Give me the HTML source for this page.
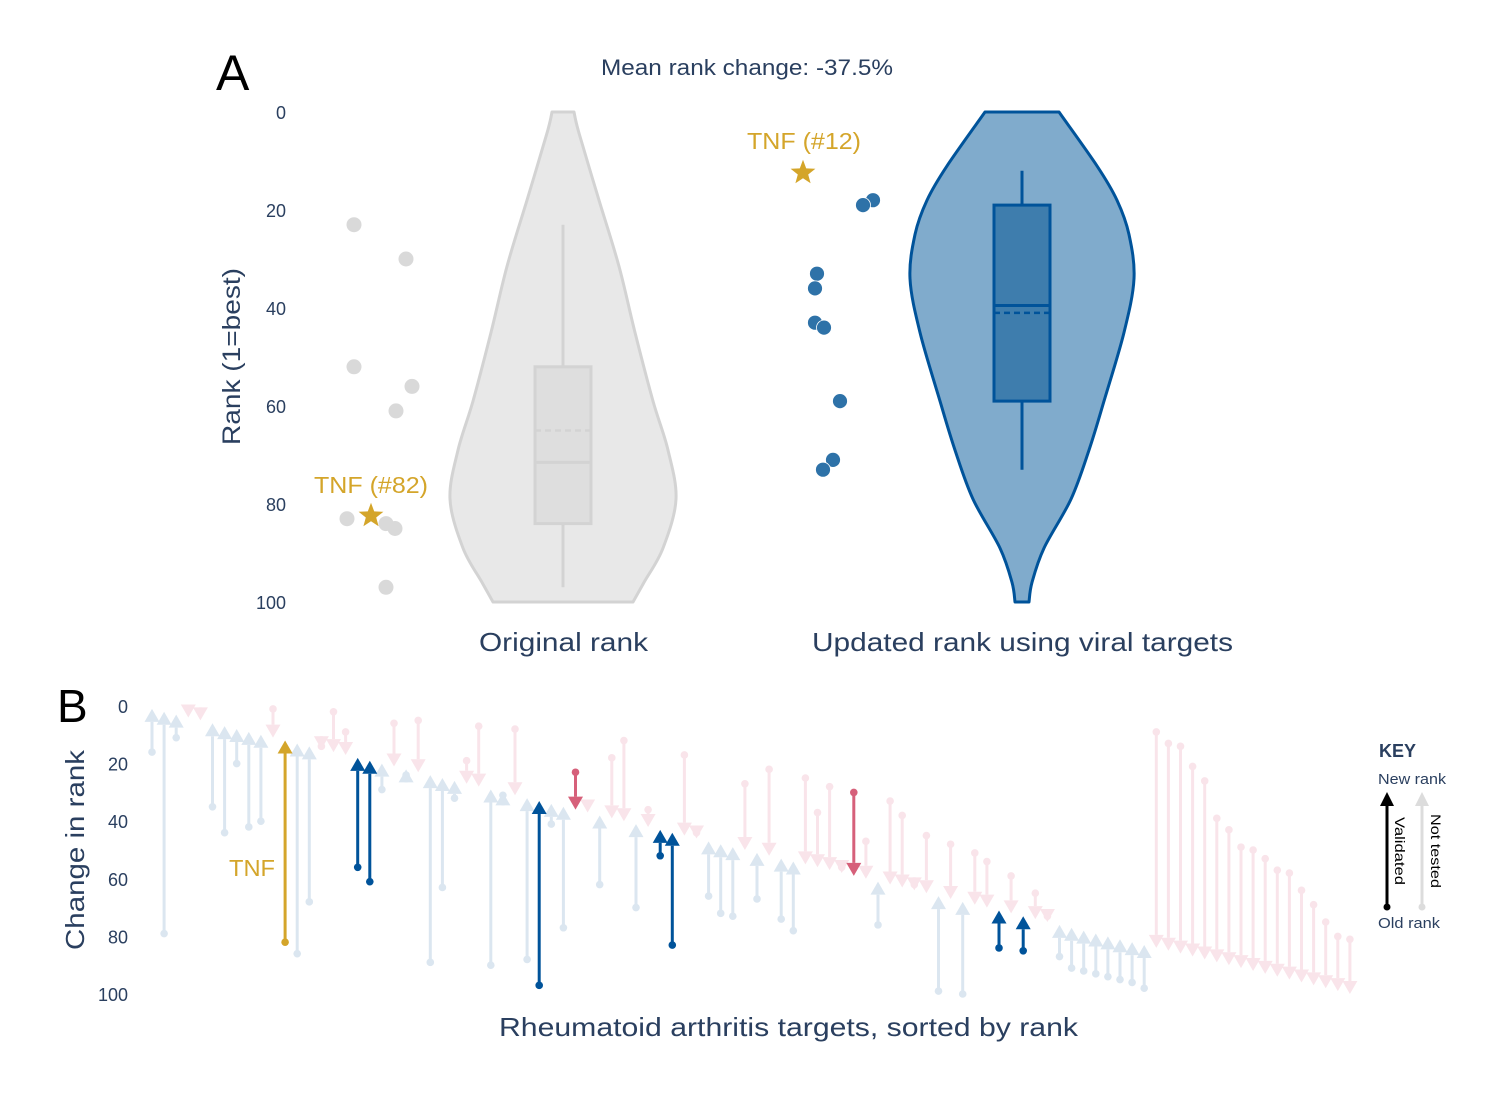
<!DOCTYPE html>
<html><head><meta charset="utf-8"><style>
body{margin:0;background:#fff;}
svg{display:block;font-family:"Liberation Sans",sans-serif;}
</style></head><body>
<svg id="chart" width="1500" height="1097" viewBox="0 0 1500 1097" xmlns="http://www.w3.org/2000/svg">
<g id="pa"></g>
<g id="pb"></g>
</svg>
<script>
// ---- Panel A data ----
const aTicks = [0,20,40,60,80,100];
const origRanks = [23,30,52,56,61,83,84,85,97];
const origJitterX = [354,406,354,412,396,347,386,395,386];
const updRanks = [18,19,33,36,43,44,59,71,73];
const updJitterX = [873,863,817,815,815,824,840,833,823];
const tnfOrig = 82, tnfUpd = 12;
const origBox = {q1:52,q3:84,med:71.5,mean:65,lo:23,hi:97};
const updBox = {q1:19,q3:59,med:39.5,mean:41,lo:12,hi:73};
const origViolinV = [0,4.3,18,31.5,45,59,69,79,89,96,100];
const origViolinW = [11,16,36,56,72,90,105,113,100,81,70];
const updViolinV = [0,11,18,25,34,45,59,69,79,89,96,100];
const updViolinW = [37,75,95,107,112,102,82,67,49,22,10,7];
// ---- Panel B data ----
const bTicks = [0,20,40,60,80,100];
const newRanks = [];
for (let i=1;i<=100;i++) newRanks.push(i);
const oldRanks = [16,79,11,1,2,35,44,20,42,40,1,82,86,68,14,2,9,56,61,29,6,24,5,89,63,32,19,7,90,31,8,88,97,
41,77,23,34,62,18,12,70,36,52,83,17,44,66,72,73,27,67,22,74,78,25,37,28,56,30,47,76,33,38,62,45,99,48,
100,51,54,84,59,85,65,73,87,91,92,93,94,95,96,98,9,13,14,21,26,39,43,49,50,53,57,58,64,69,75,80,81];
const types = ['u','u','u','d','d','u','u','u','u','u','d','g','u','u','d','d','d','v','v','u','d','u','d','u','u','u','d','d','u','u','d','u','v',
'u','u','r','d','u','d','d','u','d','v','v','d','d','u','u','u','d','u','d','u','u','d','d','d','d','r','d','u','d','d','d','d','u','d',
'u','d','d','v','d','v','d','d','u','u','u','u','u','u','u','u','d','d','d','d','d','d','d','d','d','d','d','d','d','d','d','d','d'];

const NS="http://www.w3.org/2000/svg";
function mk(parent,tag,attrs,text){const e=document.createElementNS(NS,tag);for(const k in attrs)e.setAttribute(k,attrs[k]);if(text!==undefined)e.textContent=text;parent.appendChild(e);return e;}
const navy="#2a3f5f", gold="#d4a52a";
const pa=document.getElementById('pa'), pb=document.getElementById('pb');
const LA='spacingAndGlyphs';

// ---------- Panel A ----------
const yA = v => 112 + v*4.9;
let t;
t=mk(pa,'text',{x:216,y:90,'font-size':50,fill:'#000'},'A');


t=mk(pa,'text',{x:601,y:75,'font-size':22,fill:navy,textLength:292,lengthAdjust:LA},'Mean rank change: -37.5%');


aTicks.forEach(v=>{
  const e=mk(pa,'text',{x:286,y:yA(v)+7,'font-size':18,fill:navy,'text-anchor':'end'},String(v));
  
  
});
t=mk(pa,'text',{x:-88,y:0,'font-size':25,fill:navy,textLength:177,lengthAdjust:LA,transform:'translate(240,357) rotate(-90)'},'Rank (1=best)');



function smoothPath(pts){
  let d='M'+pts[0][0]+','+pts[0][1];
  for(let i=0;i<pts.length-1;i++){
    const p0=pts[Math.max(0,i-1)],p1=pts[i],p2=pts[i+1],p3=pts[Math.min(pts.length-1,i+2)];
    const c1=[p1[0]+(p2[0]-p0[0])/6,p1[1]+(p2[1]-p0[1])/6];
    const c2=[p2[0]-(p3[0]-p1[0])/6,p2[1]-(p3[1]-p1[1])/6];
    d+=` C${c1[0].toFixed(1)},${c1[1].toFixed(1)} ${c2[0].toFixed(1)},${c2[1].toFixed(1)} ${p2[0]},${p2[1].toFixed(1)}`;
  }
  return d;
}
function violin(cx,vs,ws,fill,stroke,name){
  const right=vs.map((v,i)=>[cx+ws[i],yA(v)]);
  const left=vs.map((v,i)=>[cx-ws[i],yA(v)]).reverse();
  let d=smoothPath(right);
  d+=' L'+left[0][0]+','+left[0][1];
  d+=smoothPath(left).replace(/^M[^C]*/,' ');
  d+=' Z';
  const e=mk(pa,'path',{d:d,fill:fill,stroke:stroke,'stroke-width':3,'stroke-linejoin':'round'});
  
  
}
function box(cx,b,fill,stroke,name){
  const g=mk(pa,'g',{});
  
  
  mk(g,'line',{x1:cx,x2:cx,y1:yA(b.lo),y2:yA(b.hi),stroke:stroke,'stroke-width':3});
  mk(g,'rect',{x:cx-28,y:yA(b.q1),width:56,height:yA(b.q3)-yA(b.q1),fill:fill,stroke:stroke,'stroke-width':3});
  mk(g,'line',{x1:cx-28,x2:cx+28,y1:yA(b.med),y2:yA(b.med),stroke:stroke,'stroke-width':3});
  mk(g,'line',{x1:cx-28,x2:cx+28,y1:yA(b.mean),y2:yA(b.mean),stroke:stroke,'stroke-width':2.5,'stroke-dasharray':'6,4'});
}
violin(563,origViolinV,origViolinW,'#e8e8e8','#d3d3d3','violin-original');
box(563,origBox,'#dedede','#d3d3d3','box-original');
violin(1022,updViolinV,updViolinW,'#80abcc','#00539a','violin-updated');
box(1022,updBox,'#3e7dad','#00539a','box-updated');
origRanks.forEach((r,i)=>{
  const c=mk(pa,'circle',{cx:origJitterX[i],cy:yA(r),r:7.5,fill:'#d9d9d9'});
  
  
});
updRanks.forEach((r,i)=>{
  const c=mk(pa,'circle',{cx:updJitterX[i],cy:yA(r),r:7.5,fill:'#2e72a8',stroke:'#fff','stroke-width':0.8});
  
  
});
function star(parent,cx,cy,R){
  let p=[];for(let k=0;k<10;k++){const a=-Math.PI/2+k*Math.PI/5;const rr=k%2?R*0.42:R;p.push((cx+rr*Math.cos(a)).toFixed(1)+','+(cy+rr*Math.sin(a)).toFixed(1));}
  return mk(parent,'polygon',{points:p.join(' '),fill:gold});
}
t=star(pa,371,yA(tnfOrig)+2,13);


t=mk(pa,'text',{x:314,y:yA(tnfOrig)-21,'font-size':23,fill:gold,textLength:114,lengthAdjust:LA},'TNF (#82)');


t=star(pa,803,yA(tnfUpd)+2,13);


t=mk(pa,'text',{x:747,y:yA(tnfUpd)-22,'font-size':23,fill:gold,textLength:114,lengthAdjust:LA},'TNF (#12)');


t=mk(pa,'text',{x:479,y:651,'font-size':26,fill:navy,textLength:169,lengthAdjust:LA},'Original rank');


t=mk(pa,'text',{x:812,y:651,'font-size':26,fill:navy,textLength:421,lengthAdjust:LA},'Updated rank using viral targets');



// ---------- Panel B ----------
const yB = v => 706 + v*2.88;
const xB = i => 152 + i*12.1;
t=mk(pb,'text',{x:57,y:722,'font-size':46,fill:'#000'},'B');


bTicks.forEach(v=>{
  const e=mk(pb,'text',{x:128,y:yB(v)+7,'font-size':18,fill:navy,'text-anchor':'end'},String(v));
  
  
});
t=mk(pb,'text',{x:-100,y:0,'font-size':26,fill:navy,textLength:200,lengthAdjust:LA,transform:'translate(84,850) rotate(-90)'},'Change in rank');


t=mk(pb,'text',{x:499,y:1036,'font-size':26,fill:navy,textLength:579,lengthAdjust:LA},'Rheumatoid arthritis targets, sorted by rank');


const colors={u:'#dbe6f0',d:'#f9e4ea',v:'#00539a',r:'#d6607a',g:gold};
function arrow(parent,x,oldV,newV,col){
  const yo=yB(oldV), yn=yB(newV);
  const up = newV<oldV;
  const hh=13, hw=7.5;
  const base = up ? yn+hh : yn-hh;
  mk(parent,'line',{x1:x,x2:x,y1:yo,y2:base,stroke:col,'stroke-width':3});
  mk(parent,'circle',{cx:x,cy:yo,r:3.8,fill:col});
  mk(parent,'polygon',{points:`${x},${yn} ${x-hw},${base} ${x+hw},${base}`,fill:col});
}
const order=[...types.keys()].sort((a,b)=>(types[a]==='u'||types[a]==='d'?0:1)-(types[b]==='u'||types[b]==='d'?0:1));
order.forEach(i=>{
  const g=mk(pb,'g',{});
  
  
  arrow(g,xB(i),oldRanks[i],newRanks[i],colors[types[i]]);
});
t=mk(pb,'text',{x:229,y:876,'font-size':23,fill:gold,textLength:46,lengthAdjust:LA},'TNF');


const key=mk(pb,'g',{});


mk(key,'text',{x:1379,y:757,'font-size':18,'font-weight':'bold',fill:navy},'KEY');
mk(key,'text',{x:1378,y:784,'font-size':15,fill:navy,textLength:68,lengthAdjust:LA},'New rank');
mk(key,'text',{x:1378,y:928,'font-size':15,fill:navy,textLength:62,lengthAdjust:LA},'Old rank');
mk(key,'line',{x1:1387,x2:1387,y1:907,y2:803,stroke:'#000','stroke-width':3});
mk(key,'circle',{cx:1387,cy:907,r:3.5,fill:'#000'});
mk(key,'polygon',{points:'1387,792 1380,806 1394,806',fill:'#000'});
mk(key,'line',{x1:1422,x2:1422,y1:907,y2:803,stroke:'#dcdcdc','stroke-width':3});
mk(key,'circle',{cx:1422,cy:907,r:3.5,fill:'#dcdcdc'});
mk(key,'polygon',{points:'1422,792 1415,806 1429,806',fill:'#dcdcdc'});
mk(key,'text',{x:-34,y:0,'font-size':14,fill:'#000',textLength:68,lengthAdjust:LA,transform:'translate(1395,851) rotate(90)'},'Validated');
mk(key,'text',{x:-37,y:0,'font-size':14,fill:'#000',textLength:74,lengthAdjust:LA,transform:'translate(1431,851) rotate(90)'},'Not tested');
</script>
</body></html>
